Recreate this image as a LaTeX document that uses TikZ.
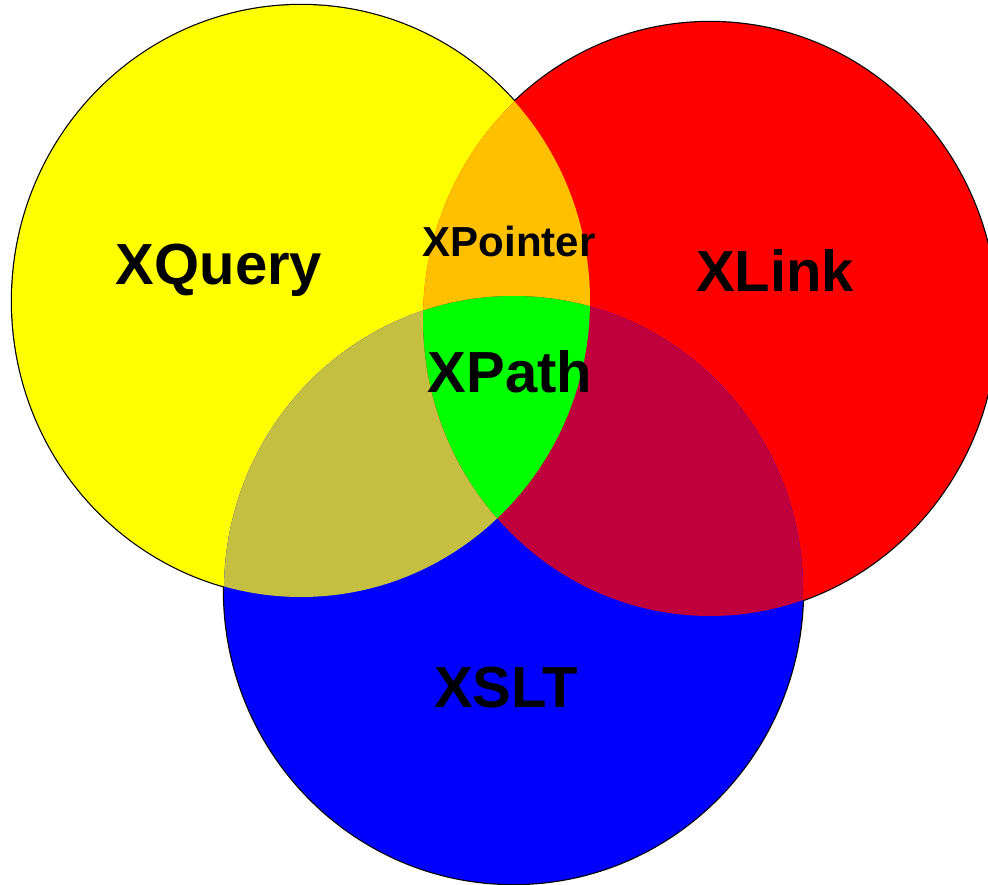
\documentclass[tikz,border=0pt]{standalone}
\usepackage{fontspec}
\setmainfont{Liberation Sans}
\definecolor{cyellow}{RGB}{255,255,0}
\definecolor{cred}{RGB}{255,0,0}
\definecolor{cblue}{RGB}{0,0,255}
\definecolor{corange}{RGB}{255,192,0}
\definecolor{colive}{RGB}{196,191,64}
\definecolor{ccrimson}{RGB}{191,0,60}
\definecolor{cgreen}{RGB}{0,255,0}
\tikzset{
  lbl/.style={anchor=base, inner sep=0pt, font=\bfseries\fontsize{58}{60}\selectfont},
  smalllbl/.style={lbl, font=\bfseries\fontsize{42}{44}\selectfont}
}
\def\yel{(301,301) ellipse [x radius=289, y radius=296]}
\def\rd{(710,319) ellipse [x radius=287, y radius=297]}
\def\blu{(513.5,590) ellipse [x radius=289.5, y radius=294]}
\begin{document}
\begin{tikzpicture}[x=1pt, y=-1pt]
\useasboundingbox (0,0) rectangle (988,885);
\draw[line width=2.4pt] \yel \rd \blu;%outline
\fill[cyellow] \yel;
\fill[cred] \rd;
\fill[cblue] \blu;
\begin{scope}\clip \yel; \fill[corange] \rd; \fill[colive] \blu;\end{scope}%with yellow
\begin{scope}\clip \rd; \fill[ccrimson] \blu;\end{scope}%red and blue
\begin{scope}\clip \yel; \clip \rd; \fill[cgreen] \blu;\end{scope}%all three
\node[lbl] (xquery) at (219,285) {XQuery};
\node[lbl] (xlink) at (775,292) {XLink};
\node[smalllbl] (xpointer) at (509,257) {XPointer};
\node[lbl] (xpath) at (510,392) {XPath};
\node[lbl] (xslt) at (506,707) {XSLT};
\end{tikzpicture}
\end{document}
